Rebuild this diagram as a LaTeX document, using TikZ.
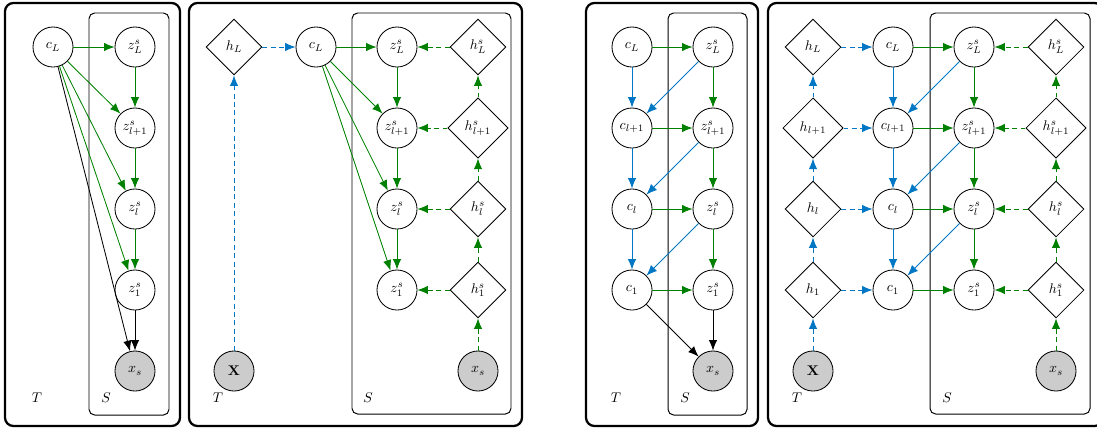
\documentclass[tikz,border=0pt]{standalone}
\usetikzlibrary{arrows.meta,shapes.geometric}
\definecolor{grn}{RGB}{0,128,0}
\definecolor{blu}{RGB}{0,119,196}
\begin{document}
\begin{tikzpicture}[x=0.7143pt,y=-0.7143pt,
  var/.style={circle,draw,line width=0.6pt,minimum size=28.6pt,inner sep=1pt},
  obsv/.style={var,fill=black!20},
  det/.style={diamond,draw,line width=0.6pt,minimum size=40pt,inner sep=1pt,aspect=1},
  detw/.style={det,minimum size=43pt},
  arr/.style={line width=0.6pt,-{Latex[length=7.5pt,width=6pt]}},
  ga/.style={arr,draw=grn},
  gd/.style={ga,dash pattern=on 3.5pt off 2.5pt},
  ba/.style={arr,draw=blu},
  bd/.style={ba,dash pattern=on 3.5pt off 2.5pt},
  ka/.style={arr,draw=black},
  outerbox/.style={draw,rounded corners=6pt,line width=1.6pt},
  innerbox/.style={draw,rounded corners=4pt,line width=0.7pt},
  lab/.style={inner sep=0pt}
]
\useasboundingbox (0,0) rectangle (1097,429);

% ---------- Panel 1 ----------
\draw[outerbox] (5,3) rectangle (180,426);
\draw[innerbox] (89,13) rectangle (169,415);
\node[var] (acL) at (53,47) {$c_L$};
\node[var] (azL) at (135,47) {$z^s_L$};
\node[var] (azl1) at (135,128) {$z^s_{l+1}$};
\node[var] (azl) at (135,209) {$z^s_l$};
\node[var] (az1) at (135,290) {$z^s_1$};
\node[obsv] (axs) at (135,371) {$x_s$};
\node[lab] (aT) at (37,398) {$T$};
\node[lab] (aS) at (106,398) {$S$};
\draw[ga] (acL) -- (azL);
\draw[ga] (acL) -- (azl1);
\draw[ga] (acL) -- (azl);
\draw[ga] (acL) -- (az1);
\draw[ka] (acL) -- (axs);
\draw[ga] (azL) -- (azl1);
\draw[ga] (azl1) -- (azl);
\draw[ga] (azl) -- (az1);
\draw[ka] (az1) -- (axs);

% ---------- Panel 2 ----------
\draw[outerbox] (189,3) rectangle (522,426);
\draw[innerbox] (352,13) rectangle (511,414);
\node[det] (bhL) at (234,47) {$h_L$};
\node[var] (bcL) at (316,47) {$c_L$};
\node[var] (bzL) at (397,47) {$z^s_L$};
\node[det] (bhsL) at (478,47) {$h^s_L$};
\node[var] (bzl1) at (397,128) {$z^s_{l+1}$};
\node[detw] (bhsl1) at (478,128) {$h^s_{l+1}$};
\node[var] (bzl) at (397,209) {$z^s_l$};
\node[det] (bhsl) at (478,209) {$h^s_l$};
\node[var] (bz1) at (397,290) {$z^s_1$};
\node[det] (bhs1) at (478,290) {$h^s_1$};
\node[obsv] (bX) at (234,371) {$\mathbf{X}$};
\node[obsv] (bxs) at (478,371) {$x_s$};
\node[lab] (bT) at (218,398) {$T$};
\node[lab] (bS) at (368,398) {$S$};
\draw[bd] (bX) -- (bhL);
\draw[bd] (bhL) -- (bcL);
\draw[ga] (bcL) -- (bzL);
\draw[ga] (bcL) -- (bzl1);
\draw[ga] (bcL) -- (bzl);
\draw[ga] (bcL) -- (bz1);
\draw[ga] (bzL) -- (bzl1);
\draw[ga] (bzl1) -- (bzl);
\draw[ga] (bzl) -- (bz1);
\draw[gd] (bhsL) -- (bzL);
\draw[gd] (bhsl1) -- (bzl1);
\draw[gd] (bhsl) -- (bzl);
\draw[gd] (bhs1) -- (bz1);
\draw[gd] (bxs) -- (bhs1);
\draw[gd] (bhs1) -- (bhsl);
\draw[gd] (bhsl) -- (bhsl1);
\draw[gd] (bhsl1) -- (bhsL);

% ---------- Panel 3 ----------
\draw[outerbox] (586,3) rectangle (758,426);
\draw[innerbox] (668,13) rectangle (747,415);
\node[var] (ccL) at (632,47) {$c_L$};
\node[var] (czL) at (713,47) {$z^s_L$};
\node[var] (ccl1) at (632,128) {$c_{l+1}$};
\node[var] (czl1) at (713,128) {$z^s_{l+1}$};
\node[var] (ccl) at (632,209) {$c_l$};
\node[var] (czl) at (713,209) {$z^s_l$};
\node[var] (cc1) at (632,290) {$c_1$};
\node[var] (cz1) at (713,290) {$z^s_1$};
\node[obsv] (cxs) at (713,371) {$x_s$};
\node[lab] (cT) at (616,398) {$T$};
\node[lab] (cS) at (685,398) {$S$};
\draw[ba] (ccL) -- (ccl1);
\draw[ba] (ccl1) -- (ccl);
\draw[ba] (ccl) -- (cc1);
\draw[ga] (czL) -- (czl1);
\draw[ga] (czl1) -- (czl);
\draw[ga] (czl) -- (cz1);
\draw[ga] (ccL) -- (czL);
\draw[ga] (ccl1) -- (czl1);
\draw[ga] (ccl) -- (czl);
\draw[ga] (cc1) -- (cz1);
\draw[ba] (czL) -- (ccl1);
\draw[ba] (czl1) -- (ccl);
\draw[ba] (czl) -- (cc1);
\draw[ka] (cc1) -- (cxs);
\draw[ka] (cz1) -- (cxs);

% ---------- Panel 4 ----------
\draw[outerbox] (768,3) rectangle (1103,426);
\draw[innerbox] (930,13) rectangle (1090,414);
\node[det] (dhL) at (813,47) {$h_L$};
\node[var] (dcL) at (893,47) {$c_L$};
\node[var] (dzL) at (974,47) {$z^s_L$};
\node[det] (dhsL) at (1056,47) {$h^s_L$};
\node[detw] (dhl1) at (813,128) {$h_{l+1}$};
\node[var] (dcl1) at (893,128) {$c_{l+1}$};
\node[var] (dzl1) at (974,128) {$z^s_{l+1}$};
\node[detw] (dhsl1) at (1056,128) {$h^s_{l+1}$};
\node[det] (dhl) at (813,209) {$h_l$};
\node[var] (dcl) at (893,209) {$c_l$};
\node[var] (dzl) at (974,209) {$z^s_l$};
\node[det] (dhsl) at (1056,209) {$h^s_l$};
\node[det] (dh1) at (813,290) {$h_1$};
\node[var] (dc1) at (893,290) {$c_1$};
\node[var] (dz1) at (974,290) {$z^s_1$};
\node[det] (dhs1) at (1056,290) {$h^s_1$};
\node[obsv] (dX) at (813,371) {$\mathbf{X}$};
\node[obsv] (dxs) at (1056,371) {$x_s$};
\node[lab] (dT) at (797,398) {$T$};
\node[lab] (dS) at (947,398) {$S$};
\draw[bd] (dX) -- (dh1);
\draw[bd] (dh1) -- (dhl);
\draw[bd] (dhl) -- (dhl1);
\draw[bd] (dhl1) -- (dhL);
\draw[bd] (dhL) -- (dcL);
\draw[bd] (dhl1) -- (dcl1);
\draw[bd] (dhl) -- (dcl);
\draw[bd] (dh1) -- (dc1);
\draw[ba] (dcL) -- (dcl1);
\draw[ba] (dcl1) -- (dcl);
\draw[ba] (dcl) -- (dc1);
\draw[ba] (dzL) -- (dcl1);
\draw[ba] (dzl1) -- (dcl);
\draw[ba] (dzl) -- (dc1);
\draw[ga] (dcL) -- (dzL);
\draw[ga] (dcl1) -- (dzl1);
\draw[ga] (dcl) -- (dzl);
\draw[ga] (dc1) -- (dz1);
\draw[ga] (dzL) -- (dzl1);
\draw[ga] (dzl1) -- (dzl);
\draw[ga] (dzl) -- (dz1);
\draw[gd] (dhsL) -- (dzL);
\draw[gd] (dhsl1) -- (dzl1);
\draw[gd] (dhsl) -- (dzl);
\draw[gd] (dhs1) -- (dz1);
\draw[gd] (dxs) -- (dhs1);
\draw[gd] (dhs1) -- (dhsl);
\draw[gd] (dhsl) -- (dhsl1);
\draw[gd] (dhsl1) -- (dhsL);
\end{tikzpicture}
\end{document}
